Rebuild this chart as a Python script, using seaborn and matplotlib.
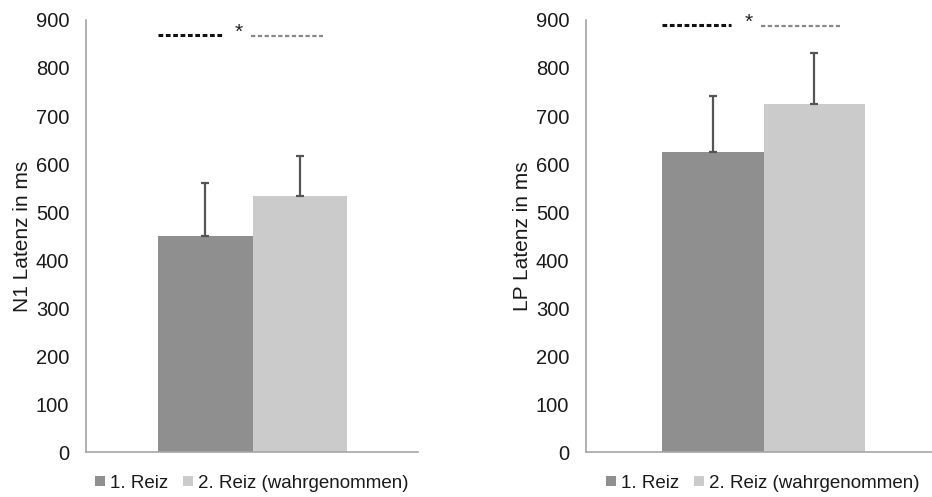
import matplotlib
matplotlib.use("Agg")
import matplotlib.pyplot as plt
from matplotlib.patches import Patch
import seaborn as sns
import pandas as pd

# Stimulus conditions and latency results (mean and standard deviation, ms)
stimuli = ["1. Reiz", "2. Reiz (wahrgenommen)"]
n1_mean = [450, 533]
n1_sd = [110, 84]
lp_mean = [626, 725]
lp_sd = [115, 107]

yticks = [0, 100, 200, 300, 400, 500, 600, 700, 800, 900]
bar_colors = ["#8f8f8f", "#cbcbcb"]

sns.set_theme(style="white")
plt.rcParams["font.family"] = ["Liberation Sans", "DejaVu Sans"]
plt.rcParams["lines.scale_dashes"] = False

fig = plt.figure(figsize=(9.32, 4.97), dpi=100)
ax_n1 = fig.add_axes([86 / 932, 45 / 497, 332 / 932, 432 / 497])
ax_lp = fig.add_axes([586 / 932, 45 / 497, 354 / 932, 432 / 497])

panels = [
    (ax_n1, n1_mean, n1_sd, "N1 Latenz in ms", (-1.262, 2.251), 869),
    (ax_lp, lp_mean, lp_sd, "LP Latenz in ms", (-1.249, 2.239), 890),
]

for ax, means, sds, ylabel, xlim, sig_y in panels:
    df = pd.DataFrame({"Reiz": stimuli, "Latenz": means})
    sns.barplot(data=df, x="Reiz", y="Latenz", hue="Reiz", palette=bar_colors,
                width=1.0, errorbar=None, legend=False, linewidth=0, ax=ax)

    # upper error bars (SD) with caps at both ends
    pos = list(range(len(stimuli)))
    ax.errorbar(pos, means, yerr=[[0] * len(sds), sds], fmt="none",
                ecolor="#555555", elinewidth=1.6, capsize=2.6, capthick=1.6,
                zorder=3)

    ax.set_ylim(0, 900)
    ax.set_xlim(*xlim)
    ax.set_yticks(yticks)
    ax.set_xticks(list(xlim))
    ax.set_xticklabels([])
    ax.set_xlabel("")
    ax.set_ylabel(ylabel, fontsize=15, color="#1a1a1a", labelpad=3)
    ax.tick_params(axis="y", direction="out", length=5, width=1,
                   color="#a6a6a6", labelsize=14.5, labelcolor="#1a1a1a", pad=7)
    ax.tick_params(axis="x", direction="out", length=5, width=1,
                   color="#a6a6a6")
    for side in ("top", "right"):
        ax.spines[side].set_visible(False)
    for side in ("left", "bottom"):
        ax.spines[side].set_color("#a6a6a6")
        ax.spines[side].set_linewidth(1.2)

    # significance marker between the two conditions
    ax.plot([-0.5, 0.18], [sig_y, sig_y], color="#111111", lw=2.2,
            dashes=(3.4, 1.9), clip_on=False, solid_capstyle="butt")
    ax.text(0.35, sig_y + 5, "*", ha="center", va="center", fontsize=15,
            color="#222222")
    ax.plot([0.48, 1.25], [sig_y - 3, sig_y - 3], color="#888888", lw=1.6,
            dashes=(3.1, 1.8), clip_on=False)

    handles = [Patch(facecolor=c, edgecolor="none", label=s)
               for c, s in zip(bar_colors, stimuli)]
    ax.legend(handles=handles, loc="center", bbox_to_anchor=(0.5, -0.072),
              ncol=2, frameon=False, fontsize=13.5, handlelength=0.5,
              handleheight=0.5, handletextpad=0.3, columnspacing=0.8,
              labelcolor="#1a1a1a")

fig.savefig("out.png", dpi=100, facecolor="white")
